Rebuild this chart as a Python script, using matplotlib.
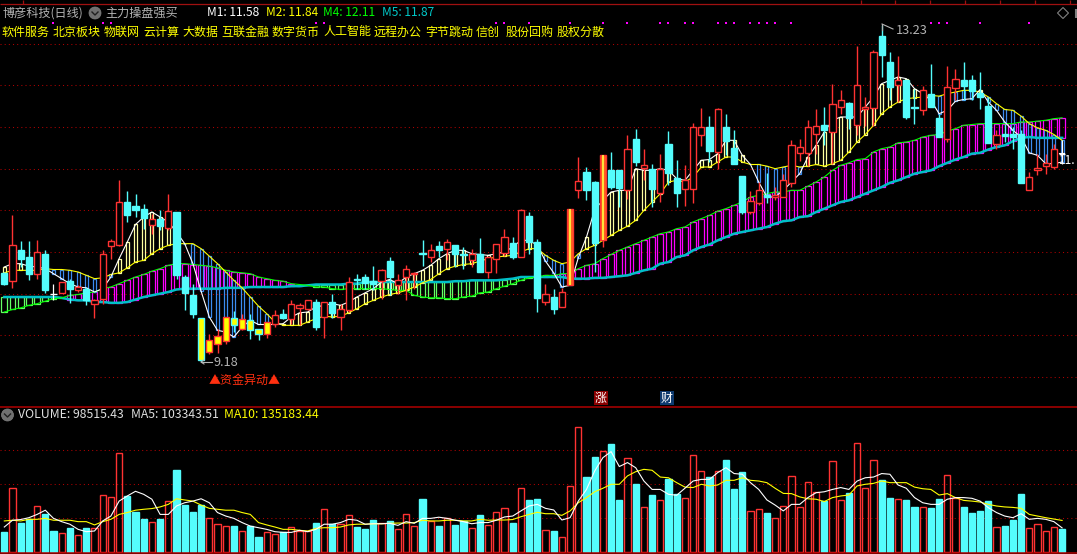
import matplotlib
matplotlib.use("Agg")
import matplotlib.pyplot as plt
import numpy as np
from matplotlib.patches import Circle, Polygon

plt.rcParams['font.family'] = ['Noto Sans CJK SC', 'DejaVu Sans']

# ---------- price data (open / high / low / close) ----------
opens = [10.25,10.15,10.53,10.44,10.23,10.48,10.00,10.01,10.15,10.04,10.06,9.88,9.94,10.57,10.59,11.10,11.05,11.02,10.83,10.89,10.79,10.98,10.20,9.98,9.71,9.30,9.40,9.43,9.71,9.58,9.68,9.58,9.52,9.63,9.76,9.70,9.83,9.82,9.90,9.72,9.90,9.72,9.80,10.18,
 10.20,10.15,10.15,10.39,10.10,10.20,10.24,10.49,10.44,10.57,10.54,10.58,10.48,10.41,10.48,10.26,10.42,10.49,10.61,10.44,10.93,10.62,9.90,9.96,9.84,10.10,11.25,11.46,11.34,10.64,11.48,11.49,11.24,11.86,11.51,11.50,11.21,11.80,11.39,11.26,11.26,11.90,12.00,
 11.70,12.00,11.75,11.41,10.98,11.09,11.19,11.16,11.16,11.33,11.69,11.69,11.92,12.02,11.94,12.24,12.29,12.03,12.21,12.23,13.09,12.78,12.50,12.56,12.24,12.20,12.40,12.11,11.86,12.47,12.56,12.56,12.41,12.25,11.80,11.92,11.92,11.92,11.25,11.48,11.53,11.52,11.68]
closes = [10.12,10.59,10.42,10.24,10.50,10.04,10.00,10.14,10.06,10.08,9.92,9.92,10.48,10.63,11.10,10.94,11.00,10.91,10.90,10.81,10.99,10.22,10.01,9.76,9.20,9.44,9.49,9.72,9.62,9.70,9.56,9.52,9.66,9.74,9.71,9.88,9.87,9.93,9.60,9.90,9.77,9.82,10.14,10.17,
 10.13,10.12,10.28,10.20,10.17,10.30,10.25,10.47,10.53,10.52,10.62,10.48,10.46,10.48,10.26,10.44,10.59,10.68,10.44,11.01,10.62,9.95,10.00,9.81,10.02,11.02,11.35,11.24,10.61,11.66,11.28,11.27,11.74,11.58,11.54,11.26,11.50,11.45,11.21,11.37,12.00,12.00,11.71,
 12.21,11.83,11.56,10.98,11.11,11.25,11.16,11.18,11.36,11.78,11.76,12.00,12.01,11.97,12.28,12.32,12.11,12.50,12.24,12.90,12.86,12.48,12.56,12.12,12.23,12.45,12.24,11.88,12.48,12.58,12.49,12.43,12.36,11.81,11.90,11.89,11.88,11.33,11.40,11.51,11.57,11.73,11.68]
highs = [10.26,10.94,10.63,10.63,10.65,10.53,10.12,10.14,10.18,10.10,10.08,9.94,10.52,10.66,11.36,11.23,11.20,11.08,10.96,11.00,11.20,10.98,10.22,10.12,9.71,9.52,9.58,9.72,9.79,9.76,9.76,9.58,9.66,9.80,9.82,9.93,9.89,9.93,9.94,9.90,10.00,9.88,10.20,10.24,
 10.24,10.33,10.30,10.44,10.24,10.34,10.26,10.64,10.60,10.63,10.66,10.59,10.56,10.54,10.67,10.44,10.60,10.78,10.68,11.02,10.98,10.66,10.12,10.05,10.07,11.02,11.64,11.52,11.35,11.66,11.70,11.49,11.90,11.98,11.74,11.55,11.68,11.95,11.61,11.54,12.05,12.23,12.13,
 12.23,12.16,11.96,11.41,11.23,11.34,11.45,11.28,11.44,11.84,11.86,12.09,12.21,12.24,12.52,12.44,12.30,12.97,12.36,12.92,13.23,12.90,12.85,12.57,12.46,12.49,12.76,12.16,12.73,12.70,12.78,12.62,12.66,12.36,11.97,12.04,12.00,11.96,11.46,11.68,11.68,11.80,11.84]
lows = [10.10,10.07,10.32,10.16,10.18,10.01,9.93,10.01,9.89,10.02,9.86,9.71,9.88,10.42,10.57,10.86,10.92,10.78,10.72,10.76,10.76,10.18,9.80,9.71,9.18,9.28,9.29,9.40,9.54,9.56,9.46,9.44,9.47,9.60,9.70,9.64,9.62,9.80,9.56,9.47,9.71,9.56,9.78,10.06,
 10.06,10.04,9.94,9.98,10.00,9.92,10.06,10.33,10.38,10.44,10.40,10.32,10.30,10.32,10.26,10.19,10.25,10.45,10.42,10.44,10.48,9.78,9.86,9.76,9.84,10.10,11.15,11.12,10.26,10.56,11.26,11.04,11.14,11.53,11.36,11.04,11.10,11.30,11.04,11.05,11.09,11.77,11.58,
 11.50,11.66,11.56,10.96,10.96,11.06,11.09,11.12,11.16,11.28,11.59,11.53,11.68,11.78,11.56,12.16,11.98,11.90,12.01,12.01,12.60,12.32,12.30,12.10,12.04,12.14,12.24,11.88,11.82,12.32,12.33,12.32,12.22,11.81,11.74,11.82,11.74,11.33,11.25,11.42,11.44,11.50,11.56]

# ---------- moving averages M1, M2, M4, M5 ----------
m1 = [10.32,10.36,10.36,10.33,10.32,10.30,10.24,10.18,10.12,10.08,10.07,10.02,10.06,10.20,10.42,10.62,10.83,10.92,10.98,10.92,10.86,10.74,10.60,10.36,10.03,9.72,9.56,9.54,9.48,9.60,9.68,9.63,9.63,9.63,9.64,9.72,9.77,9.78,9.84,9.86,9.88,9.86,9.90,9.96,
 10.01,10.06,10.14,10.17,10.12,10.20,10.24,10.28,10.34,10.42,10.48,10.52,10.52,10.48,10.47,10.46,10.48,10.50,10.56,10.64,10.64,10.58,10.39,10.25,10.08,10.10,10.43,10.68,11.01,11.12,11.22,11.24,11.24,11.50,11.48,11.48,11.50,11.48,11.38,11.36,11.48,11.60,11.61,
 11.68,11.84,11.84,11.66,11.55,11.34,11.16,11.16,11.24,11.34,11.44,11.64,11.78,11.94,12.08,12.12,12.12,12.12,12.24,12.36,12.52,12.56,12.60,12.58,12.46,12.40,12.32,12.16,12.20,12.31,12.33,12.34,12.45,12.30,12.20,12.06,11.96,11.88,11.69,11.66,11.56,11.56,11.58]
m2 = [10.25,10.28,10.28,10.28,10.28,10.30,10.29,10.29,10.28,10.26,10.22,10.18,10.19,10.23,10.25,10.31,10.38,10.40,10.48,10.54,10.58,10.60,10.60,10.60,10.54,10.45,10.36,10.26,10.16,10.07,9.96,9.85,9.76,9.66,9.62,9.62,9.62,9.66,9.70,9.73,9.72,9.73,9.77,9.82,
 9.88,9.92,9.96,9.99,10.01,10.04,10.08,10.13,10.17,10.24,10.30,10.33,10.35,10.36,10.39,10.42,10.44,10.45,10.46,10.50,10.54,10.54,10.46,10.40,10.36,10.38,10.48,10.54,10.58,10.64,10.70,10.76,10.81,10.88,11.00,11.10,11.20,11.34,11.36,11.34,11.40,11.52,11.52,
 11.58,11.64,11.64,11.58,11.55,11.55,11.53,11.50,11.52,11.54,11.52,11.53,11.55,11.53,11.56,11.60,11.70,11.82,11.91,12.02,12.16,12.24,12.30,12.34,12.35,12.36,12.38,12.37,12.40,12.42,12.44,12.44,12.42,12.36,12.28,12.21,12.20,12.13,12.04,11.99,11.96,11.91,11.84]
m4 = [9.78,9.81,9.83,9.86,9.88,9.91,9.94,9.95,9.98,9.99,10.01,10.02,10.06,10.08,10.12,10.16,10.20,10.23,10.27,10.30,10.34,10.36,10.36,10.35,10.34,10.33,10.31,10.28,10.26,10.25,10.24,10.20,10.18,10.16,10.15,10.12,10.11,10.10,10.08,10.08,10.06,10.05,10.06,10.06,
 10.06,10.06,10.06,10.05,10.04,10.04,9.98,9.96,9.95,9.95,9.94,9.94,9.96,9.97,10.01,10.02,10.06,10.09,10.12,10.16,10.19,10.20,10.22,10.22,10.24,10.24,10.30,10.34,10.36,10.42,10.47,10.52,10.56,10.60,10.64,10.68,10.72,10.74,10.78,10.80,10.86,10.90,10.94,
 10.99,11.02,11.06,11.10,11.16,11.18,11.20,11.22,11.22,11.24,11.24,11.29,11.34,11.40,11.48,11.54,11.57,11.61,11.62,11.70,11.74,11.76,11.81,11.82,11.84,11.88,11.90,11.91,11.95,11.98,12.02,12.03,12.04,12.04,12.04,12.04,12.04,12.06,12.06,12.07,12.08,12.10,12.11]
m5 = [9.96,9.96,9.96,9.96,9.96,9.96,9.96,9.95,9.93,9.92,9.92,9.90,9.90,9.89,9.89,9.90,9.93,9.96,9.98,10.00,10.02,10.05,10.06,10.06,10.06,10.06,10.06,10.07,10.07,10.07,10.08,10.08,10.08,10.08,10.08,10.09,10.09,10.10,10.11,10.11,10.11,10.11,10.12,10.12,
 10.14,10.14,10.14,10.14,10.14,10.14,10.14,10.14,10.14,10.14,10.14,10.15,10.15,10.16,10.16,10.16,10.16,10.17,10.18,10.20,10.20,10.20,10.20,10.20,10.20,10.18,10.18,10.18,10.19,10.19,10.20,10.21,10.22,10.25,10.28,10.30,10.36,10.38,10.44,10.46,10.52,10.56,10.59,
 10.64,10.68,10.72,10.74,10.76,10.78,10.80,10.84,10.87,10.88,10.92,10.93,10.98,11.02,11.06,11.10,11.12,11.16,11.20,11.24,11.28,11.33,11.36,11.40,11.44,11.46,11.48,11.53,11.57,11.61,11.64,11.68,11.69,11.73,11.76,11.78,11.83,11.87,11.88,11.87,11.87,11.87,11.87]

# ---------- volume (thousands) ----------
volume = [86,273,124,140,196,163,90,80,103,71,103,101,243,236,423,240,171,141,127,141,218,351,201,171,201,144,119,110,111,89,111,64,84,77,84,106,89,90,124,183,119,119,157,107,
 99,137,123,133,97,161,110,227,133,111,144,116,133,101,159,114,170,187,124,273,223,227,93,90,63,281,534,321,407,431,463,223,401,291,191,244,221,313,247,230,414,346,321,
 346,394,270,343,174,183,167,144,196,324,191,298,256,218,388,221,253,466,273,393,308,231,226,223,193,191,188,227,328,231,193,167,176,218,106,111,137,248,101,119,89,106,98.5]
vol_ma5 = [107,136,139,147,161,179,144,130,119,97,87,90,133,154,218,240,260,247,226,161,161,197,211,218,228,211,169,154,144,126,111,104,97,87,84,84,93,87,97,119,119,126,140,136,
 119,121,121,123,114,130,123,144,144,149,144,136,130,121,126,126,136,150,154,176,197,204,187,180,137,147,218,268,347,404,430,366,383,361,304,268,268,247,243,273,304,311,311,340,
 361,336,333,297,268,223,201,176,204,204,233,254,258,268,276,268,304,318,321,336,333,287,273,233,211,204,204,226,233,233,230,218,190,169,154,147,164,140,144,140,130,103.3]
vol_ma10 = [133,136,133,140,140,144,136,136,136,130,130,116,130,140,161,169,179,183,186,193,204,228,223,218,201,187,183,179,179,169,161,126,116,107,97,97,93,90,101,104,104,107,116,119,
 119,121,121,123,124,124,126,136,133,133,136,136,133,133,140,136,137,137,139,151,161,170,164,164,157,176,211,233,258,273,290,290,326,344,354,350,321,318,297,278,276,290,283,287,
 307,307,318,307,304,297,273,251,250,236,228,226,216,233,240,244,283,290,294,304,297,297,297,278,271,268,244,250,233,221,218,214,204,197,193,191,187,161,154,147,141,135.2]

# ---------- labels ----------
tags = ["软件服务","北京板块","物联网","云计算","大数据","互联金融","数字货币","人工智能","远程办公","字节跳动","信创","股份回购","股权分散"]
tag_x = [2,53,104,143,182,221,272,323,374,425,476,506,557]
legend_m = [("M1: 11.58",207,"#FFFFFF"),("M2: 11.84",266,"#FFFF00"),("M4: 12.11",323,"#00FF00"),("M5: 11.87",382,"#00C8C8")]
news_idx = [6,12,13,38,39,60,61,64,69,73,76,80,81,83,84,87,88,89,91,92,93,94,96,113,114,115,119,125]
special_idx = [24,25,26,27,28,29,30,31,32]
limit_idx = [69,73]
price_grid = [9,9.5,10,10.5,11,11.5,12,12.5,13]
vol_grid = [145,290,435]

W, H = 1077, 554
CY = "#54FCFC"; RED = "#FF3232"; GRID = "#B00000"; CREAM = "#FFFFA0"; BLUE = "#3C8CF0"
fig = plt.figure(figsize=(W/100, H/100), dpi=100, facecolor="black")
x0 = -4.3/8.2; x1 = (W-4.3)/8.2
x = np.arange(len(opens))
DOT = (0, (1, 3))

# price panel
ax = fig.add_axes([0, (H-406)/H, 1, 406/H], facecolor="black")
ax.set_xlim(x0, x1)
ax.set_ylim(9+(377-406)*0.012, 9+377*0.012)
ax.axis("off")
ax.hlines(price_grid, x0, x1, colors=GRID, linewidth=0.75, linestyles=DOT, zorder=1)

arr1, arr2, arr4, arr5 = map(np.array, (m1, m2, m4, m5))
ax.bar(x, arr4-arr5, bottom=arr5, width=0.72, facecolor="none",
       edgecolor=["#FF00FF" if a > b else "#66FF66" for a, b in zip(arr4, arr5)], linewidth=0.9, zorder=2)
ax.bar(x, arr1-arr2, bottom=arr2, width=0.36, facecolor="none",
       edgecolor=[CREAM if a > b else BLUE for a, b in zip(arr1, arr2)], linewidth=0.9, zorder=2)
ax.plot(x, m5, color="#00C0C8", lw=1.8, zorder=3, solid_joinstyle="miter")
ax.plot(x, m4, color="#00FF00", lw=0.8, zorder=3)
ax.plot(x, m2, color="#FFFF00", lw=0.8, zorder=3)
ax.plot(x, m1, color="#FFFFFF", lw=0.8, zorder=3)

for i in x:
    o, c, h, l = opens[i], closes[i], highs[i], lows[i]
    up = c > o
    if o == c:
        ax.vlines(i, l, h, color="white", lw=0.9, zorder=4)
        ax.hlines(c, i-0.4, i+0.4, color="white", lw=1.0, zorder=4)
        continue
    edge = RED if up else CY
    face = "black" if up else CY
    if i in special_idx:
        face = "#FFFF00"
    if i in limit_idx:
        face = "#FF6020"
    ax.vlines(i, l, h, color=edge, lw=1.0, zorder=4)
    ax.bar(i, abs(c-o), bottom=min(o, c), width=0.76, facecolor=face, edgecolor=edge, linewidth=1.0, zorder=5)
    if i in limit_idx:
        ax.vlines(i, min(o, c), max(o, c), color="#FFFF40", lw=1.2, zorder=6)

ax.scatter(news_idx, [13.248]*len(news_idx), marker="s", s=3, color="#FF00FF", linewidths=0, zorder=6)

# volume panel
av = fig.add_axes([0, 1/H, 1, 146/H], facecolor="black")
av.set_xlim(x0, x1)
av.set_ylim(-1*4.283, 145*4.283)
av.axis("off")
av.hlines(vol_grid, x0, x1, colors=GRID, linewidth=0.75, linestyles=DOT, zorder=1)
for i in x:
    up = closes[i] > opens[i]
    av.bar(i, volume[i], width=0.76, facecolor="none" if up else CY,
           edgecolor=RED if up else CY, linewidth=1.0, zorder=2)
av.plot(x, vol_ma10, color="#FFFF00", lw=0.8, zorder=3)
av.plot(x, vol_ma5, color="#FFFFFF", lw=0.8, zorder=3)

# overlay in pixel space for header, labels and frame
ov = fig.add_axes([0, 0, 1, 1], facecolor="none")
ov.set_xlim(0, W); ov.set_ylim(H, 0); ov.axis("off")
DR = "#B00000"
ov.hlines([3.5], 0, W, color="#A01010", lw=0.9)
ov.vlines([23,861,895,930,965,1000,1035,1070], 0, 3.5, color="#A01010", lw=0.9)
ov.hlines([406.5, 552.5], 0, W, color=DR, lw=1.1)

def txt(x_, y_, s, c, size=8.64, **kw):
    ov.text(x_, y_, s, color=c, fontsize=size, ha=kw.pop("ha", "left"), va="center", **kw)

GR = "#B4B4B4"
txt(3, 13, "博彦科技(日线)", GR, 8.7)
txt(105, 13, "主力操盘强买", GR, 8.7)
def chevron(cx, cy):
    ov.add_patch(Circle((cx, cy), 6, facecolor="#707070", edgecolor="#808080", lw=0.5))
    ov.plot([cx-3, cx, cx+3], [cy-1, cy+2, cy-1], color="#202020", lw=1.0)
chevron(95, 13)
chevron(7.5, 415)
for s, px, c in legend_m:
    txt(px, 13, s, c, 8.6)
for s, px in zip(tags, tag_x):
    txt(px, 32, s, "#FFFF00", 8.64)

txt(18, 415, "VOLUME: 98515.43", "#E0E0E0", 8.8)
txt(131, 415, "MA5: 103343.51", "#E0E0E0", 8.8)
txt(224, 415, "MA10: 135183.44", "#FFFF00", 8.8)

# extreme labels
ov.plot([201, 212], [362, 362], color=GR, lw=0.8)
ov.plot([204, 201, 204], [360, 362, 364], color=GR, lw=0.8)
txt(213, 363, "9.18", GR, 9.2)
ov.plot([882, 893], [24, 29], color=GR, lw=0.8)
ov.plot([882, 882], [24, 30], color=GR, lw=0.8)
txt(896, 30, "13.23", GR, 9.2)
ov.plot([1059, 1064], [153, 153], color="white", lw=0.8)
txt(1076, 160, "11.", "#FFFFFF", 8.6, ha="right")

txt(245, 380, "▲资金异动▲", "#FF3010", 8.64, ha="center")

# badges
for bx, s, bg in [(601, "涨", "#8B0000"), (667, "财", "#0E3A6E")]:
    ov.text(bx, 398, s, color="white", fontsize=8.6, ha="center", va="center",
            bbox=dict(boxstyle="square,pad=0.08", facecolor=bg, edgecolor="none"))

ov.add_patch(Polygon([(1063, 7.5), (1068.5, 13), (1063, 18.5), (1057.5, 13)], closed=True,
                     facecolor="none", edgecolor="#808080", lw=0.8))
ov.vlines([1076], 9, 18, color="#808080", lw=1.5)

fig.savefig("out.png", dpi=100, facecolor="black")
